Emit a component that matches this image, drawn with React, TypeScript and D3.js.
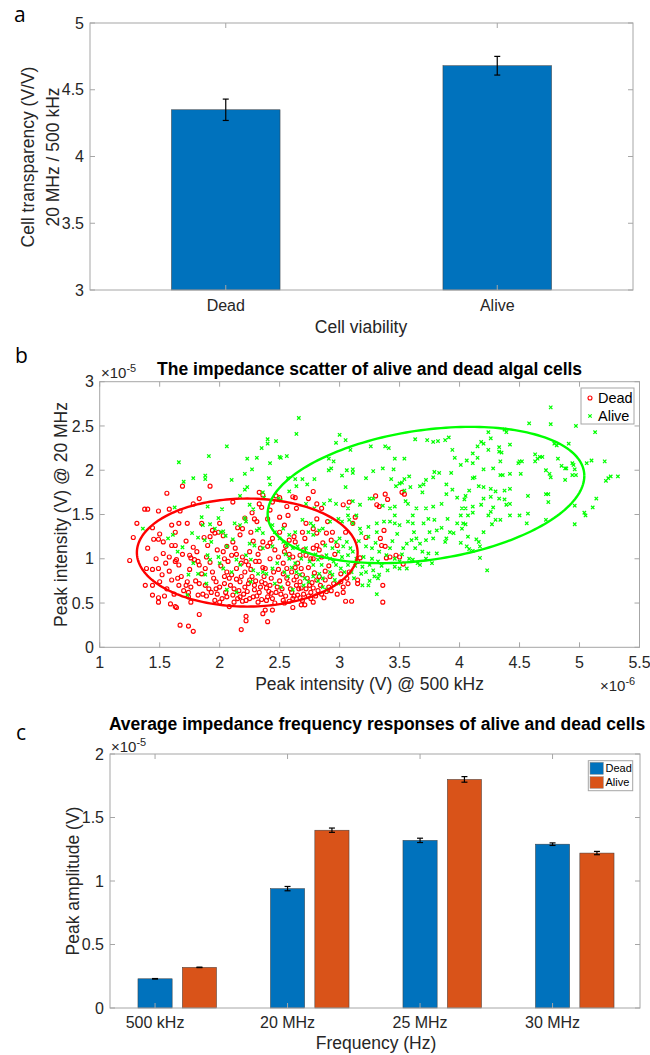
import React from 'react';
import * as d3 from 'd3';

const FONT = "'Liberation Sans', Arial, Helvetica, sans-serif";
const TXT = '#262626';
const AX = '#a6a6a6';

// panel a
const aCats = ['Dead', 'Alive'];
const aValues = [4.35, 4.68];
const aErrors = [0.08, 0.07];
const aYTicks = [3, 3.5, 4, 4.5, 5];

// panel b (x in 1e-6 V, y in 1e-5 V)
const bXTicks = [1, 1.5, 2, 2.5, 3, 3.5, 4, 4.5, 5, 5.5];
const bYTicks = [0, 0.5, 1, 1.5, 2, 2.5, 3];
const deadPts: [number, number][] = [
  [1.25, 0.98], [1.28, 1.24], [1.31, 1.4], [1.4, 1.12], [1.39, 0.89], [1.44, 0.88], [1.49, 0.89],
  [1.38, 0.7], [1.44, 0.7], [1.44, 0.59], [1.49, 0.56], [1.54, 0.58], [1.59, 0.49], [1.49, 0.51],
  [1.63, 0.46], [1.64, 0.45], [1.67, 0.25], [1.74, 0.24], [1.78, 0.18], [1.83, 0.37], [1.45, 1.22],
  [1.49, 1.22], [1.53, 1.19], [1.5, 1.28], [1.63, 1.3], [1.66, 1.4], [1.73, 1.4], [1.6, 1.15],
  [1.63, 1.15], [1.58, 1.02], [1.64, 0.99], [1.58, 0.86], [1.63, 0.97], [1.66, 0.93], [1.6, 0.76],
  [1.65, 0.78], [1.68, 0.8], [1.72, 0.7], [1.73, 0.74], [1.76, 0.68], [1.74, 0.62], [1.76, 0.51],
  [1.74, 0.57], [1.82, 0.59], [1.78, 1.13], [1.75, 1.04], [1.76, 1.01], [1.79, 0.99], [1.82, 0.97],
  [1.83, 0.93], [1.87, 1.24], [1.92, 1.25], [1.94, 1.32], [1.99, 1.3], [1.96, 1.29], [2.03, 1.26],
  [1.89, 1.02], [1.92, 0.96], [1.88, 0.89], [1.94, 0.85], [1.83, 0.72], [1.88, 0.7], [1.91, 0.66],
  [1.86, 0.6], [1.89, 0.58], [1.93, 0.62], [1.97, 0.74], [2.0, 0.68], [2.04, 0.72], [1.96, 0.53],
  [2.0, 0.51], [2.06, 0.57], [2.08, 0.46], [2.12, 0.51], [2.06, 0.85], [2.1, 0.82], [2.14, 0.89],
  [2.03, 1.08], [2.06, 1.14], [2.1, 1.04], [2.11, 1.19], [2.17, 1.27], [2.19, 1.34], [2.21, 1.46],
  [2.29, 1.45], [2.31, 1.42], [2.19, 1.02], [2.22, 0.97], [2.25, 1.08], [2.17, 0.74], [2.21, 0.68],
  [2.25, 0.76], [2.29, 0.65], [2.17, 0.57], [2.22, 0.53], [2.28, 0.57], [2.32, 0.51], [2.22, 0.35],
  [2.22, 0.3], [2.18, 0.2], [2.4, 0.29], [2.36, 0.38], [2.38, 0.42], [2.44, 0.42], [2.33, 0.97],
  [2.38, 0.89], [2.42, 1.0], [2.36, 1.19], [2.4, 1.14], [2.44, 1.23], [2.35, 0.74], [2.39, 0.67],
  [2.43, 0.61], [2.39, 0.53], [2.46, 0.5], [2.5, 1.47], [2.57, 1.49], [2.54, 1.38], [2.58, 1.21],
  [2.63, 1.19], [2.69, 1.3], [2.71, 1.23], [2.78, 1.34], [2.81, 1.29], [2.81, 1.45], [2.89, 1.29],
  [2.93, 1.21], [2.94, 1.3], [2.78, 1.12], [2.81, 1.15], [2.83, 1.1], [2.72, 1.04], [2.76, 1.0],
  [2.78, 1.0], [2.54, 1.08], [2.58, 1.05], [2.61, 1.02], [2.53, 0.95], [2.56, 0.89], [2.6, 0.85],
  [2.65, 0.95], [2.68, 0.89], [2.69, 0.82], [2.64, 0.8], [2.67, 0.74], [2.68, 0.67], [2.75, 0.7],
  [2.78, 0.67], [2.81, 0.76], [2.83, 0.8], [2.88, 0.76], [2.92, 0.8], [2.89, 0.63], [2.91, 0.68],
  [2.61, 0.55], [2.65, 0.59], [2.69, 0.53], [2.76, 0.55], [2.78, 0.51], [2.61, 0.45], [2.68, 0.48],
  [2.71, 0.48], [2.53, 0.53], [2.54, 0.5], [3.01, 0.74], [3.03, 0.68], [3.07, 0.72], [3.01, 0.83],
  [3.06, 0.78], [3.05, 0.52], [3.1, 0.52], [3.15, 0.97], [3.17, 1.01], [3.15, 0.76], [3.15, 0.72],
  [3.36, 0.51], [3.36, 0.7], [3.34, 1.23], [3.35, 1.15], [3.38, 1.14], [3.37, 1.32], [3.39, 1.01],
  [3.42, 1.02], [3.47, 1.04], [3.5, 1.02], [3.53, 0.94], [3.22, 1.24], [3.11, 1.4], [3.13, 1.47],
  [2.9, 1.42], [2.78, 1.76], [2.61, 1.7], [2.63, 1.69], [2.56, 1.59], [2.64, 1.57], [2.74, 1.68],
  [2.81, 1.62], [2.85, 1.57], [3.03, 1.61], [3.08, 1.64], [3.3, 1.71], [3.38, 1.73], [3.4, 1.67],
  [3.31, 1.61], [3.33, 1.59], [3.52, 1.75], [3.54, 1.73], [2.5, 1.69], [1.69, 1.82], [1.92, 1.82],
  [1.56, 1.74], [1.83, 1.68], [1.78, 1.62], [1.375, 1.56], [1.4, 1.56], [1.49, 1.54], [1.58, 1.56],
  [1.67, 1.54], [2.11, 1.64], [2.33, 1.75], [2.36, 1.72], [2.27, 1.52], [2.33, 1.62], [2.35, 1.58],
  [2.42, 1.55], [2.44, 1.64], [2.47, 1.71], [2.05, 0.62], [2.08, 0.78], [2.12, 0.66], [2.15, 0.55],
  [2.18, 0.8], [2.2, 0.6], [2.24, 0.72], [2.26, 0.88], [2.3, 0.75], [2.31, 0.58], [2.34, 0.68],
  [2.37, 0.8], [2.4, 0.57], [2.42, 0.7], [2.45, 0.85], [2.47, 0.62], [2.5, 0.75], [2.52, 0.66],
  [2.55, 0.58], [2.57, 0.72], [2.6, 0.62], [2.62, 0.76], [2.66, 0.66], [2.7, 0.6], [2.73, 0.78],
  [2.76, 0.62], [2.8, 0.58], [2.84, 0.7], [2.87, 0.56], [2.93, 0.64], [1.95, 0.78], [1.98, 0.6],
  [2.01, 0.92], [2.07, 0.97], [2.13, 1.12], [2.28, 1.2], [2.32, 1.05], [2.46, 1.1], [2.53, 0.83],
  [2.63, 0.9], [2.7, 1.1], [2.86, 1.18], [2.96, 1.05], [1.8, 0.75], [1.85, 0.83], [1.72, 1.2],
  [1.55, 0.95], [1.52, 0.82], [2.0, 1.4], [2.4, 1.45],
  [1.97, 0.66], [2.02, 0.55], [2.04, 0.8], [2.09, 0.7], [2.11, 0.59], [2.14, 0.77], [2.16, 0.64],
  [2.19, 0.52], [2.21, 0.85], [2.23, 0.63], [2.25, 0.55], [2.27, 0.8], [2.29, 0.7], [2.33, 0.62],
  [2.35, 0.54], [2.36, 0.9], [2.38, 0.72], [2.41, 0.63], [2.43, 0.78], [2.44, 0.55], [2.48, 0.68],
  [2.49, 0.88], [2.51, 0.6], [2.56, 0.78], [2.58, 0.52], [2.59, 0.66], [2.62, 0.58], [2.64, 0.7],
  [2.67, 0.56], [2.72, 0.66], [2.74, 0.58], [2.77, 0.73], [2.79, 0.84], [2.82, 0.64], [2.85, 0.6],
  [2.88, 0.86], [2.95, 0.72], [2.98, 0.6], [3.03, 0.62], [3.08, 0.85], [1.75, 0.88], [1.7, 0.64],
  [1.66, 0.7], [1.62, 0.6], [1.56, 0.66], [1.5, 0.74], [1.47, 1.0], [1.53, 1.06], [1.69, 1.05],
  [1.81, 1.08], [1.9, 1.15], [1.98, 1.1], [2.04, 1.0], [2.14, 1.05], [2.18, 0.95], [2.24, 0.93],
  [2.3, 0.97], [2.34, 1.12], [2.42, 1.18], [2.49, 1.02], [2.55, 1.14], [2.62, 1.25], [2.67, 1.04],
  [2.74, 0.9], [2.85, 1.02], [2.91, 0.92], [2.98, 1.15], [3.05, 1.3], [2.15, 1.35], [2.26, 1.3],
  [2.5, 1.3], [2.72, 1.4], [1.85, 1.4], [1.6, 1.38], [1.44, 1.35],
];
const alivePts: [number, number][] = [
  [1.66, 2.09], [1.91, 2.16], [2.06, 2.27], [2.4, 2.35], [2.4, 2.3], [2.47, 2.33], [2.35, 2.25],
  [2.23, 2.13], [2.31, 2.14], [2.42, 2.08], [2.27, 2.01], [2.21, 1.96], [1.88, 1.94], [1.88, 1.9],
  [1.78, 1.91], [1.7, 1.87], [2.1, 1.89], [2.41, 1.91], [2.42, 1.84], [2.21, 1.78], [2.23, 1.81],
  [2.17, 1.71], [2.36, 1.75], [2.37, 1.69], [1.625, 1.58], [1.9, 1.59], [2.02, 1.56], [2.25, 1.61],
  [2.28, 1.56], [2.5, 2.15], [2.49, 1.68], [2.66, 2.59], [2.64, 2.41], [2.51, 2.14], [2.56, 2.16],
  [3.0, 2.4], [2.97, 2.31], [3.05, 2.34], [3.09, 2.23], [3.26, 2.27], [3.38, 2.27], [3.41, 2.25],
  [2.91, 2.13], [2.95, 2.1], [3.46, 2.13], [3.54, 2.13], [3.63, 2.35], [3.73, 2.34], [3.78, 2.32],
  [3.82, 2.33], [3.88, 2.34], [3.91, 2.37], [3.94, 2.23], [3.96, 2.14], [2.91, 2.0], [2.93, 2.02],
  [3.06, 2.0], [3.11, 2.01], [3.11, 1.97], [3.02, 1.94], [3.22, 1.91], [3.28, 1.99], [3.36, 2.02],
  [3.45, 2.01], [3.43, 1.9], [3.54, 1.9], [3.58, 1.93], [3.47, 1.82], [3.5, 1.85], [3.52, 1.86],
  [3.72, 1.89], [3.78, 1.92], [3.79, 1.98], [3.67, 1.82], [3.7, 1.84], [3.83, 1.97], [3.89, 1.84],
  [3.93, 1.97], [3.59, 1.81], [3.54, 1.77], [2.57, 1.91], [2.63, 1.9], [2.69, 1.9], [2.79, 1.9],
  [2.73, 1.84], [2.64, 1.82], [2.58, 1.76], [3.05, 1.81], [2.92, 1.66], [2.97, 1.62], [2.87, 1.62],
  [3.11, 1.65], [3.17, 1.61], [3.25, 1.68], [3.28, 1.68], [3.07, 1.57], [3.36, 1.6], [3.42, 1.57],
  [3.46, 1.59], [3.55, 1.65], [3.57, 1.62], [3.64, 1.57], [3.72, 1.57], [3.78, 1.59], [3.85, 1.62],
  [3.89, 1.73], [3.94, 1.78], [3.98, 1.69], [3.69, 1.75], [2.51, 1.66], [2.72, 1.62], [2.79, 1.57],
  [4.76, 2.71], [4.76, 2.52], [4.58, 2.53], [4.97, 2.5], [5.13, 2.43], [4.375, 2.46], [4.39, 2.43],
  [4.24, 2.43], [4.18, 2.32], [4.2, 2.3], [4.26, 2.36], [4.15, 2.27], [4.24, 2.23], [4.33, 2.26],
  [4.33, 2.21], [4.35, 2.2], [4.42, 2.29], [4.11, 2.19], [4.06, 2.11], [4.15, 2.14], [4.01, 2.06],
  [4.11, 2.08], [4.2, 2.01], [4.34, 2.1], [4.28, 2.02], [4.5, 2.1], [4.52, 2.1], [4.49, 2.08],
  [4.63, 2.18], [4.65, 2.13], [4.67, 2.15], [4.69, 2.15], [4.63, 2.1], [4.79, 2.3], [4.81, 2.28],
  [4.91, 2.3], [4.82, 2.13], [4.85, 2.05], [4.88, 2.02], [4.89, 2.02], [4.94, 2.08], [4.95, 2.06],
  [4.96, 2.01], [4.94, 1.945], [4.97, 1.945], [4.88, 1.89], [4.75, 1.96], [4.76, 1.92], [4.72, 2.0],
  [5.06, 2.08], [5.1, 2.11], [5.21, 2.1], [5.24, 1.91], [5.26, 1.93], [5.32, 1.93], [5.22, 1.88],
  [4.51, 1.96], [4.42, 1.96], [4.34, 1.945], [4.36, 1.945], [4.11, 1.91], [4.125, 1.92], [4.16, 1.82],
  [4.2, 1.81], [4.26, 1.79], [4.08, 1.77], [4.3, 1.76], [4.375, 1.77], [4.42, 1.79], [4.05, 1.71],
  [4.04, 1.67], [4.2, 1.68], [4.26, 1.7], [4.33, 1.68], [4.375, 1.67], [4.02, 1.57], [4.05, 1.57],
  [4.11, 1.59], [4.11, 1.52], [4.18, 1.61], [4.26, 1.53], [4.28, 1.58], [4.39, 1.61], [4.42, 1.62],
  [4.57, 1.71], [4.72, 1.73], [4.74, 1.73], [4.74, 1.64], [4.96, 1.6], [5.11, 1.58], [5.14, 1.68],
  [5.04, 1.52], [4.57, 1.51], [4.01, 1.49], [4.07, 1.49], [4.03, 1.4], [4.05, 1.39], [4.02, 1.34],
  [4.07, 1.25], [4.01, 1.18], [4.06, 1.14], [4.08, 1.11], [4.11, 1.09], [4.14, 1.22], [4.16, 1.19],
  [4.17, 1.14], [4.2, 1.3], [4.17, 1.01], [4.23, 0.87], [4.24, 1.49], [4.27, 1.39], [4.3, 1.44],
  [4.34, 1.44], [4.42, 1.49], [4.5, 1.49], [4.56, 1.4], [4.72, 1.44], [4.96, 1.39], [5.05, 1.49],
  [2.69, 1.44], [2.76, 1.4], [2.78, 1.37], [2.74, 1.3], [2.78, 1.27], [2.83, 1.32], [2.86, 1.34],
  [2.92, 1.42], [2.99, 1.45], [3.02, 1.42], [3.08, 1.44], [3.11, 1.4], [3.07, 1.49], [3.14, 1.49],
  [3.17, 1.34], [3.18, 1.29], [3.24, 1.36], [3.31, 1.4], [3.31, 1.3], [3.37, 1.42], [3.42, 1.42],
  [3.46, 1.4], [3.5, 1.38], [3.57, 1.42], [3.61, 1.4], [3.46, 1.49], [3.61, 1.49], [3.74, 1.45],
  [3.79, 1.44], [3.75, 1.3], [3.81, 1.32], [3.72, 1.21], [3.78, 1.23], [3.92, 1.3], [3.95, 1.29],
  [3.89, 1.23], [3.88, 1.19], [3.6, 1.21], [3.64, 1.23], [3.67, 1.17], [3.56, 1.17], [3.53, 1.12],
  [3.63, 1.12], [3.69, 1.08], [3.74, 1.06], [3.81, 1.06], [3.61, 0.99], [3.65, 0.95], [3.72, 1.0],
  [3.77, 0.95], [3.46, 1.0], [3.5, 0.97], [3.39, 1.04], [3.42, 1.12], [3.33, 1.08], [3.32, 0.97],
  [3.22, 1.14], [3.27, 1.12], [3.27, 1.0], [3.25, 0.93], [3.19, 0.91], [3.22, 0.85], [3.18, 0.83],
  [3.28, 0.87], [3.33, 0.82], [3.29, 0.8], [3.32, 0.78], [3.19, 0.7], [3.24, 0.7], [3.31, 0.6],
  [3.07, 1.04], [3.11, 1.08], [3.14, 1.0], [3.03, 1.14], [3.06, 1.19], [2.97, 1.19], [3.0, 1.23],
  [2.94, 1.12], [2.99, 1.08], [2.89, 1.04], [2.92, 1.0], [2.82, 0.99], [2.85, 0.93], [2.75, 0.97],
  [2.78, 0.93], [2.69, 1.08], [2.72, 1.12], [2.61, 1.12], [2.65, 1.14], [2.56, 1.15], [2.53, 1.19],
  [2.58, 1.27], [2.63, 1.3], [2.53, 1.34], [2.5, 1.23], [2.58, 1.0], [2.63, 0.95], [2.54, 0.85],
  [2.57, 0.8], [2.64, 0.85], [2.67, 0.82], [2.71, 0.78], [2.74, 0.74], [2.78, 0.8], [2.83, 0.83],
  [2.86, 0.78], [2.92, 0.85], [2.94, 0.82], [2.97, 0.93], [3.01, 0.89], [3.04, 0.85], [3.07, 0.93],
  [3.1, 0.85], [2.86, 0.68], [2.89, 0.65], [2.99, 0.72], [2.51, 0.68], [2.61, 0.65], [3.46, 0.91],
  [3.5, 0.89], [3.56, 0.89], [3.67, 0.93], [1.36, 1.34], [1.57, 1.23], [1.61, 1.27], [1.69, 1.13],
  [1.65, 1.08], [1.77, 1.29], [1.82, 1.24], [1.85, 1.47], [1.86, 1.38], [1.92, 1.39], [1.96, 1.34],
  [1.99, 1.46], [1.875, 1.21], [1.93, 1.19], [2.01, 1.3], [2.03, 1.31], [2.05, 1.26], [2.06, 1.14],
  [2.11, 1.22], [2.125, 1.4], [2.17, 1.38], [2.21, 1.46], [2.22, 1.42], [2.31, 1.32], [2.33, 1.34],
  [2.36, 1.29], [2.25, 1.17], [2.29, 1.15], [2.36, 1.12], [2.44, 1.38], [2.46, 1.3], [2.44, 1.14],
  [1.9, 1.04], [1.92, 0.99], [1.99, 1.02], [2.03, 0.89], [2.1, 0.85], [1.78, 0.95], [1.74, 0.82],
  [1.82, 0.83], [1.88, 0.82], [2.14, 0.99], [2.17, 0.93], [2.22, 1.04], [2.26, 0.99], [2.28, 0.87],
  [2.32, 0.83], [2.36, 0.85], [2.39, 0.83], [2.44, 0.89], [2.46, 0.72], [2.26, 0.74], [2.06, 0.65],
  [2.14, 0.62], [1.89, 0.72], [1.73, 0.59], [2.0, 0.95],
  [2.68, 1.0], [2.8, 1.05], [2.88, 1.15], [2.95, 0.97], [3.02, 1.02], [3.09, 1.12], [3.13, 0.92],
  [3.16, 1.2], [3.2, 1.02], [3.24, 1.25], [3.3, 1.18], [3.35, 0.92], [3.4, 0.87], [3.44, 1.2],
  [3.48, 1.28], [3.52, 1.05], [3.58, 1.0], [3.62, 1.3], [3.7, 1.4], [3.85, 1.35], [3.9, 1.45],
  [3.98, 1.4], [2.55, 1.05], [2.6, 0.9], [2.7, 0.7], [2.82, 0.75], [2.96, 0.76], [3.12, 0.78],
  [3.25, 0.75], [2.48, 0.95],
];
// fitted ellipses: center, x half-width, y half-height, xy coupling
const deadEllipse = { cx: 2.23, cy: 1.07, ax: 0.92, ay: 0.61, cxy: 0 };
const aliveEllipse = { cx: 3.72, cy: 1.72, ax: 1.32, ay: 0.77, cxy: 0.285 };

// panel c (1e-5 V)
const cCats = ['500 kHz', '20 MHz', '25 MHz', '30 MHz'];
const cDead = [0.23, 0.94, 1.32, 1.29];
const cDeadErr = [0.002, 0.017, 0.017, 0.01];
const cAlive = [0.32, 1.4, 1.8, 1.22];
const cAliveErr = [0.002, 0.017, 0.022, 0.013];
const cYTicks = [0, 0.5, 1, 1.5, 2];

const BLUE = '#0072BD';
const ORANGE = '#D95319';

function Frame({ x0, x1, y0, y1, xt, yt }: { x0: number; x1: number; y0: number; y1: number; xt: number[]; yt: number[] }) {
  const t = 5;
  return (
    <g stroke={AX} strokeWidth={1} fill="none">
      <rect x={x0} y={y0} width={x1 - x0} height={y1 - y0} />
      {xt.map((x, i) => (
        <g key={'x' + i}>
          <line x1={x} x2={x} y1={y1} y2={y1 - t} />
          <line x1={x} x2={x} y1={y0} y2={y0 + t} />
        </g>
      ))}
      {yt.map((y, i) => (
        <g key={'y' + i}>
          <line x1={x0} x2={x0 + t} y1={y} y2={y} />
          <line x1={x1} x2={x1 - t} y1={y} y2={y} />
        </g>
      ))}
    </g>
  );
}

function ErrBar({ x, yTop, yBot, w = 3 }: { x: number; yTop: number; yBot: number; w?: number }) {
  return (
    <g stroke="#000" strokeWidth={1.2}>
      <line x1={x} x2={x} y1={yTop} y2={yBot} />
      <line x1={x - w} x2={x + w} y1={yTop} y2={yTop} />
      <line x1={x - w} x2={x + w} y1={yBot} y2={yBot} />
    </g>
  );
}

function ellipsePath(e: typeof aliveEllipse, xs: d3.ScaleLinear<number, number>, ys: d3.ScaleLinear<number, number>) {
  const k = e.cxy / e.ax;
  const b = Math.sqrt(e.ay * e.ay - k * k);
  const pts = d3.range(0, 201).map((i) => {
    const t = (i / 200) * Math.PI * 2;
    return [e.cx + e.ax * Math.cos(t), e.cy + k * Math.cos(t) + b * Math.sin(t)] as [number, number];
  });
  return d3.line<[number, number]>().x((d) => xs(d[0])).y((d) => ys(d[1]))(pts) || '';
}

export default function App() {
  // panel a
  const xA = d3.scaleLinear().domain([0.5, 2.5]).range([90, 633]);
  const yA = d3.scaleLinear().domain([3, 5]).range([290, 23]);
  const bwA = xA(1.4) - xA(1);

  // panel b
  const xB = d3.scaleLinear().domain([1, 5.5]).range([99.7, 639.5]);
  const yB = d3.scaleLinear().domain([0, 3]).range([647.3, 381.7]);

  // panel c
  const xC = d3.scaleLinear().domain([0.66, 4.66]).range([110, 640]);
  const yC = d3.scaleLinear().domain([0, 2]).range([1008, 754]);
  const bwC = xC(0.258) - xC(0);
  const off = 0.335;

  return (
    <svg width={650} height={1055} style={{ position: 'absolute', left: 0, top: 0, background: '#fff' }} fontFamily={FONT}>
      <rect width={650} height={1055} fill="#fff" />

      {/* ---------- a ---------- */}
      <text x={14} y={22} fontSize={21} fontFamily="'Open Sans', sans-serif" fill="#000">a</text>
      {aValues.map((v, i) => (
        <rect key={i} x={xA(i + 1) - bwA / 2} y={yA(v)} width={bwA} height={yA(3) - yA(v)}
          fill={BLUE} stroke="#3a3a3a" strokeWidth={0.5} />
      ))}
      {aValues.map((v, i) => (
        <ErrBar key={i} x={xA(i + 1)} yTop={yA(v + aErrors[i])} yBot={yA(v - aErrors[i])} />
      ))}
      <Frame x0={90} x1={633} y0={23} y1={290} xt={aCats.map((_, i) => xA(i + 1))} yt={aYTicks.map((t) => yA(t))} />
      {aYTicks.map((t) => (
        <text key={t} x={84} y={yA(t)} dy="0.35em" textAnchor="end" fontSize={16} fill={TXT}>{t}</text>
      ))}
      {aCats.map((c, i) => (
        <text key={c} x={xA(i + 1)} y={311} textAnchor="middle" fontSize={16} fill={TXT}>{c}</text>
      ))}
      <text x={361} y={333} textAnchor="middle" fontSize={17.5} fill={TXT}>Cell viability</text>
      <g transform="translate(0,157) rotate(-90)" fontSize={17.5} fill={TXT} textAnchor="middle">
        <text x={0} y={34}>Cell transparency (V/V)</text>
        <text x={0} y={59}>20 MHz / 500 kHz</text>
      </g>

      {/* ---------- b ---------- */}
      <text x={15} y={363} fontSize={21} fontFamily="'Open Sans', sans-serif" fill="#000">b</text>
      <text x={369.6} y={375} textAnchor="middle" fontSize={17.5} fontWeight="bold" fill="#000">
        The impedance scatter of alive and dead algal cells
      </text>
      <text x={101} y={378} fontSize={15} fill={TXT}>
        ×10<tspan dy={-6} fontSize={11}>-5</tspan>
      </text>
      <g fill="none" stroke="#ff0000" strokeWidth={1.15}>
        {deadPts.map((p, i) => (
          <circle key={i} cx={xB(p[0])} cy={yB(p[1])} r={2} />
        ))}
      </g>
      <g fill="none" stroke="#00ff00" strokeWidth={1.25}>
        {alivePts.map((p, i) => {
          const x = xB(p[0]);
          const y = yB(p[1]);
          const s = 1.7;
          return <path key={i} d={`M${x - s},${y - s}L${x + s},${y + s}M${x - s},${y + s}L${x + s},${y - s}`} />;
        })}
      </g>
      <path d={ellipsePath(deadEllipse, xB, yB)} fill="none" stroke="#ff0000" strokeWidth={2.4} />
      <path d={ellipsePath(aliveEllipse, xB, yB)} fill="none" stroke="#00ff00" strokeWidth={2.4} />
      <Frame x0={99.7} x1={639.5} y0={381.7} y1={647.3} xt={bXTicks.map((t) => xB(t))} yt={bYTicks.map((t) => yB(t))} />
      {bYTicks.map((t) => (
        <text key={t} x={94} y={yB(t)} dy="0.35em" textAnchor="end" fontSize={16} fill={TXT}>{t}</text>
      ))}
      {bXTicks.map((t) => (
        <text key={t} x={xB(t)} y={668} textAnchor="middle" fontSize={16} fill={TXT}>{t}</text>
      ))}
      <text x={369.6} y={690} textAnchor="middle" fontSize={17.5} fill={TXT}>Peak intensity (V) @ 500 kHz</text>
      <text x={600} y={691} fontSize={15} fill={TXT}>
        ×10<tspan dy={-6} fontSize={11}>-6</tspan>
      </text>
      <text transform={`translate(67,${(381.7 + 647.3) / 2}) rotate(-90)`} textAnchor="middle" fontSize={17.5} fill={TXT}>
        Peak intensity (V) @ 20 MHz
      </text>
      <g>
        <rect x={581} y={388} width={53} height={36} fill="#fff" stroke={AX} strokeWidth={1} />
        <circle cx={590} cy={398} r={2} fill="none" stroke="#ff0000" strokeWidth={1.1} />
        <path d="M588.3,414.3L591.7,417.7M588.3,417.7L591.7,414.3" stroke="#00ff00" strokeWidth={1.2} />
        <text x={598} y={398} dy="0.35em" fontSize={14.5} fill="#000">Dead</text>
        <text x={598} y={416} dy="0.35em" fontSize={14.5} fill="#000">Alive</text>
      </g>

      {/* ---------- c ---------- */}
      <text x={16} y={740} fontSize={21} fontFamily="'Open Sans', sans-serif" fill="#000">c</text>
      <text x={377} y={730} textAnchor="middle" fontSize={17.5} fontWeight="bold" fill="#000">
        Average impedance frequency responses of alive and dead cells
      </text>
      <text x={111} y={752} fontSize={15} fill={TXT}>
        ×10<tspan dy={-6} fontSize={11}>-5</tspan>
      </text>
      {cDead.map((v, i) => (
        <rect key={'d' + i} x={xC(i + 1) - bwC / 2} y={yC(v)} width={bwC} height={yC(0) - yC(v)}
          fill={BLUE} stroke="#3a3a3a" strokeWidth={0.5} />
      ))}
      {cAlive.map((v, i) => (
        <rect key={'a' + i} x={xC(i + 1 + off) - bwC / 2} y={yC(v)} width={bwC} height={yC(0) - yC(v)}
          fill={ORANGE} stroke="#3a3a3a" strokeWidth={0.5} />
      ))}
      {cDead.map((v, i) => (
        <ErrBar key={'de' + i} x={xC(i + 1)} yTop={yC(v + cDeadErr[i])} yBot={yC(v - cDeadErr[i])} />
      ))}
      {cAlive.map((v, i) => (
        <ErrBar key={'ae' + i} x={xC(i + 1 + off)} yTop={yC(v + cAliveErr[i])} yBot={yC(v - cAliveErr[i])} />
      ))}
      <Frame x0={110} x1={640} y0={754} y1={1008} xt={cCats.map((_, i) => xC(i + 1))} yt={cYTicks.map((t) => yC(t))} />
      {cYTicks.map((t) => (
        <text key={t} x={104} y={yC(t)} dy="0.35em" textAnchor="end" fontSize={16} fill={TXT}>{t}</text>
      ))}
      {cCats.map((c, i) => (
        <text key={c} x={xC(i + 1)} y={1028} textAnchor="middle" fontSize={16} fill={TXT}>{c}</text>
      ))}
      <text x={376} y={1049} textAnchor="middle" fontSize={17.5} fill={TXT}>Frequency (Hz)</text>
      <text transform={`translate(79,881) rotate(-90)`} textAnchor="middle" fontSize={17.5} fill={TXT}>
        Peak amplitude (V)
      </text>
      <g>
        <rect x={588.3} y={760.7} width={44.4} height={30} fill="#fff" stroke={AX} strokeWidth={1} />
        <rect x={590} y={762.3} width={13.3} height={12} fill={BLUE} stroke="#888" strokeWidth={0.5} />
        <rect x={590} y={776.7} width={13.3} height={11.6} fill={ORANGE} stroke="#888" strokeWidth={0.5} />
        <text x={605.5} y={772.3} fontSize={11} fill="#000">Dead</text>
        <text x={605.5} y={786} fontSize={11} fill="#000">Alive</text>
      </g>
    </svg>
  );
}
